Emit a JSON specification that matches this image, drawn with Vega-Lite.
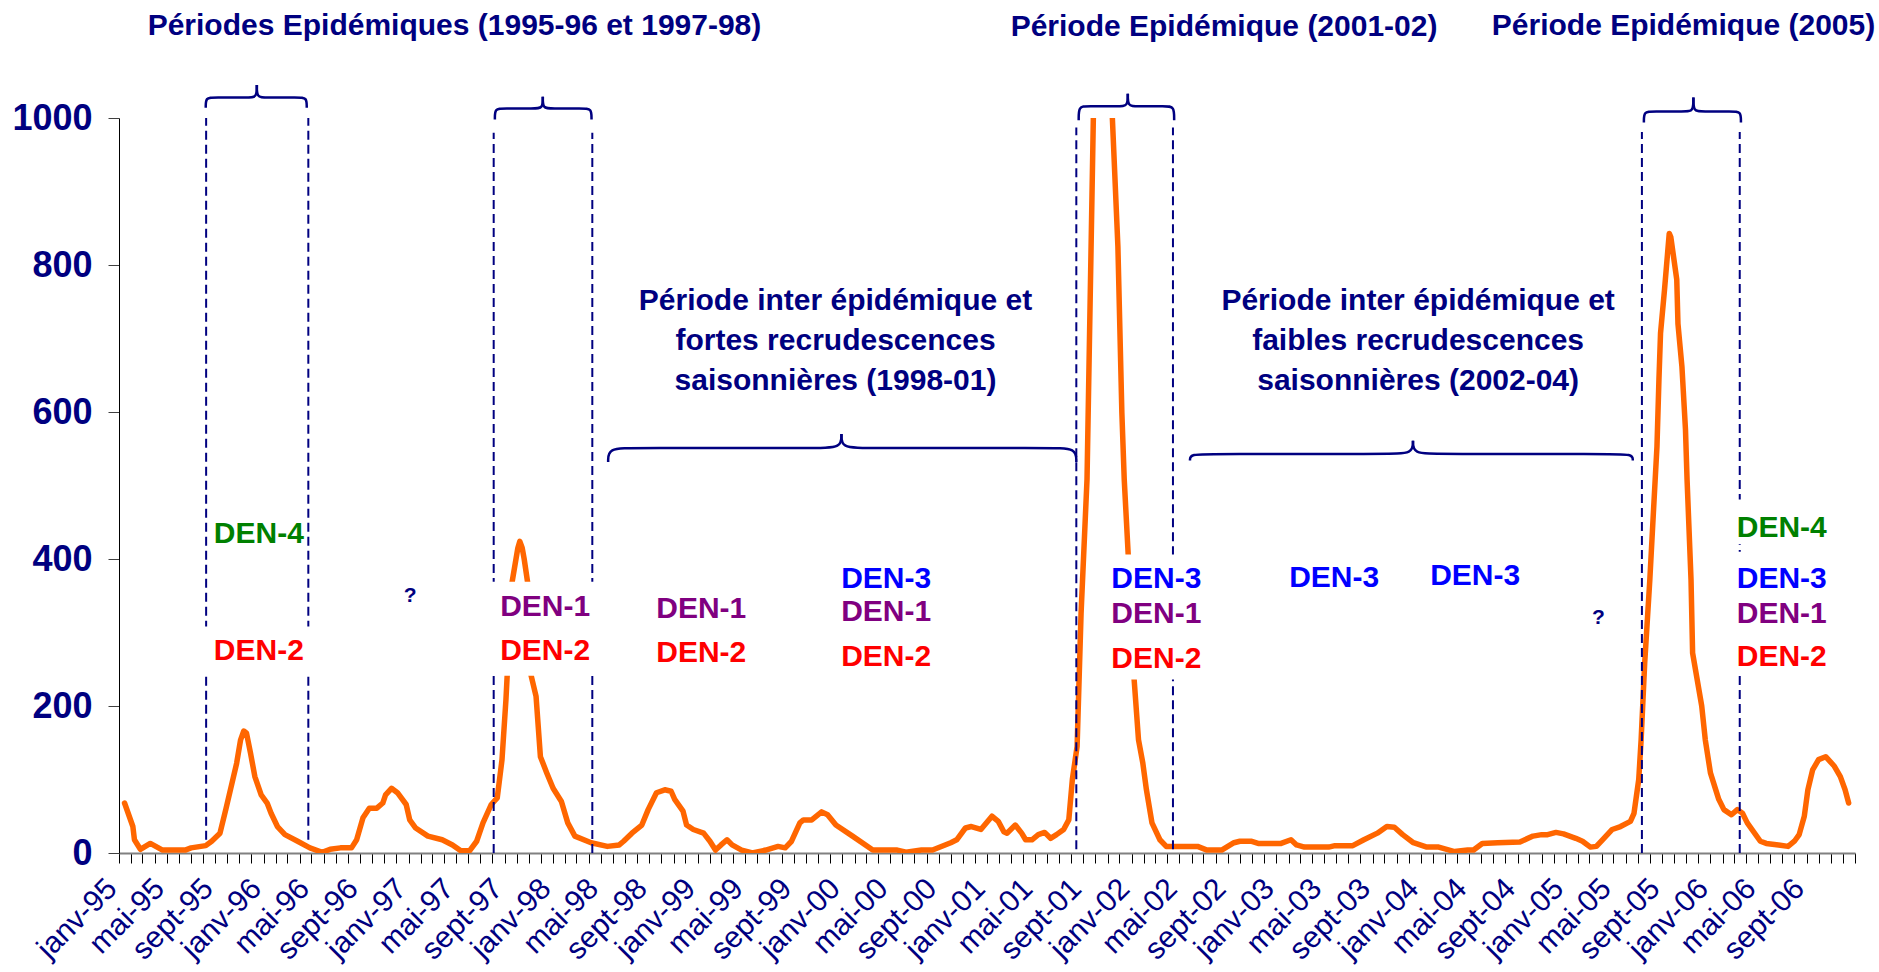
{
  "$schema": "https://vega.github.io/schema/vega-lite/v6.json",
  "width": 1736,
  "height": 735,
  "autosize": {"type": "none"},
  "padding": {"left": 119, "top": 118, "right": 24, "bottom": 119},
  "background": "white",
  "config": {"view": {"stroke": null}, "font": "Liberation Sans"},
  "datasets": {
    "cases": [
      {"date": "1995-01-15", "cases": 68}, {"date": "1995-02-05", "cases": 36}, {"date": "1995-02-09", "cases": 18},
      {"date": "1995-02-24", "cases": 5}, {"date": "1995-03-21", "cases": 13}, {"date": "1995-04-21", "cases": 4},
      {"date": "1995-06-17", "cases": 4}, {"date": "1995-07-02", "cases": 7}, {"date": "1995-08-08", "cases": 10},
      {"date": "1995-08-23", "cases": 16}, {"date": "1995-09-13", "cases": 27}, {"date": "1995-09-28", "cases": 60},
      {"date": "1995-10-25", "cases": 122}, {"date": "1995-11-04", "cases": 154}, {"date": "1995-11-12", "cases": 166},
      {"date": "1995-11-19", "cases": 163}, {"date": "1995-11-29", "cases": 136}, {"date": "1995-12-10", "cases": 104},
      {"date": "1995-12-26", "cases": 79}, {"date": "1996-01-10", "cases": 68}, {"date": "1996-01-20", "cases": 54},
      {"date": "1996-02-05", "cases": 36}, {"date": "1996-02-24", "cases": 25}, {"date": "1996-03-27", "cases": 16},
      {"date": "1996-04-27", "cases": 7}, {"date": "1996-05-28", "cases": 1}, {"date": "1996-06-17", "cases": 5},
      {"date": "1996-07-13", "cases": 7}, {"date": "1996-08-10", "cases": 7}, {"date": "1996-08-23", "cases": 18},
      {"date": "1996-09-08", "cases": 48}, {"date": "1996-09-24", "cases": 61}, {"date": "1996-10-13", "cases": 61},
      {"date": "1996-10-28", "cases": 68}, {"date": "1996-11-04", "cases": 79}, {"date": "1996-11-19", "cases": 88},
      {"date": "1996-12-04", "cases": 82}, {"date": "1996-12-26", "cases": 66}, {"date": "1997-01-04", "cases": 45},
      {"date": "1997-01-19", "cases": 34}, {"date": "1997-02-19", "cases": 23}, {"date": "1997-03-27", "cases": 18},
      {"date": "1997-04-22", "cases": 11}, {"date": "1997-05-13", "cases": 3}, {"date": "1997-06-04", "cases": 3},
      {"date": "1997-06-22", "cases": 16}, {"date": "1997-07-08", "cases": 41}, {"date": "1997-07-29", "cases": 66},
      {"date": "1997-08-13", "cases": 75}, {"date": "1997-08-25", "cases": 127}, {"date": "1997-09-04", "cases": 209},
      {"date": "1997-09-19", "cases": 367}, {"date": "1997-10-04", "cases": 415}, {"date": "1997-10-09", "cases": 424},
      {"date": "1997-10-15", "cases": 415}, {"date": "1997-10-20", "cases": 400}, {"date": "1997-10-29", "cases": 367},
      {"date": "1997-11-04", "cases": 247}, {"date": "1997-11-19", "cases": 213}, {"date": "1997-11-30", "cases": 131},
      {"date": "1997-12-16", "cases": 109}, {"date": "1998-01-01", "cases": 88}, {"date": "1998-01-22", "cases": 70},
      {"date": "1998-02-07", "cases": 41}, {"date": "1998-02-25", "cases": 23}, {"date": "1998-04-07", "cases": 14},
      {"date": "1998-05-18", "cases": 9}, {"date": "1998-06-17", "cases": 11}, {"date": "1998-06-28", "cases": 16},
      {"date": "1998-07-19", "cases": 27}, {"date": "1998-08-13", "cases": 38}, {"date": "1998-08-29", "cases": 59},
      {"date": "1998-09-19", "cases": 82}, {"date": "1998-10-10", "cases": 86}, {"date": "1998-10-26", "cases": 84},
      {"date": "1998-11-04", "cases": 73}, {"date": "1998-11-25", "cases": 57}, {"date": "1998-12-04", "cases": 38},
      {"date": "1998-12-21", "cases": 32}, {"date": "1999-01-16", "cases": 27}, {"date": "1999-02-01", "cases": 16},
      {"date": "1999-02-15", "cases": 4}, {"date": "1999-03-01", "cases": 11}, {"date": "1999-03-16", "cases": 18},
      {"date": "1999-03-29", "cases": 11}, {"date": "1999-04-22", "cases": 4}, {"date": "1999-05-19", "cases": 0},
      {"date": "1999-06-22", "cases": 4}, {"date": "1999-07-23", "cases": 9}, {"date": "1999-08-10", "cases": 7},
      {"date": "1999-08-26", "cases": 16}, {"date": "1999-09-16", "cases": 41}, {"date": "1999-09-25", "cases": 45},
      {"date": "1999-10-16", "cases": 45}, {"date": "1999-11-10", "cases": 56}, {"date": "1999-11-25", "cases": 52},
      {"date": "1999-12-16", "cases": 38}, {"date": "2000-01-27", "cases": 23}, {"date": "2000-03-18", "cases": 4},
      {"date": "2000-05-19", "cases": 4}, {"date": "2000-06-10", "cases": 1}, {"date": "2000-07-19", "cases": 4},
      {"date": "2000-08-16", "cases": 4}, {"date": "2000-10-01", "cases": 14}, {"date": "2000-10-16", "cases": 18},
      {"date": "2000-11-07", "cases": 34}, {"date": "2000-11-22", "cases": 36}, {"date": "2000-12-16", "cases": 32},
      {"date": "2001-01-13", "cases": 50}, {"date": "2001-01-29", "cases": 43}, {"date": "2001-02-12", "cases": 29},
      {"date": "2001-02-20", "cases": 27}, {"date": "2001-03-13", "cases": 38}, {"date": "2001-03-29", "cases": 27},
      {"date": "2001-04-08", "cases": 18}, {"date": "2001-04-24", "cases": 18}, {"date": "2001-05-10", "cases": 25},
      {"date": "2001-05-26", "cases": 28}, {"date": "2001-06-10", "cases": 20}, {"date": "2001-06-25", "cases": 25},
      {"date": "2001-07-13", "cases": 32}, {"date": "2001-07-26", "cases": 45}, {"date": "2001-08-04", "cases": 100},
      {"date": "2001-08-16", "cases": 145}, {"date": "2001-08-26", "cases": 326}, {"date": "2001-09-10", "cases": 508},
      {"date": "2001-09-26", "cases": 1000}, {"date": "2001-10-19", "cases": 1500}, {"date": "2001-11-13", "cases": 1000},
      {"date": "2001-11-27", "cases": 825}, {"date": "2001-12-07", "cases": 599}, {"date": "2001-12-13", "cases": 508},
      {"date": "2001-12-23", "cases": 406}, {"date": "2001-12-30", "cases": 320}, {"date": "2002-01-07", "cases": 236},
      {"date": "2002-01-18", "cases": 154}, {"date": "2002-01-29", "cases": 122}, {"date": "2002-02-07", "cases": 86},
      {"date": "2002-02-21", "cases": 41}, {"date": "2002-03-13", "cases": 18}, {"date": "2002-03-29", "cases": 9},
      {"date": "2002-04-19", "cases": 9}, {"date": "2002-06-16", "cases": 9}, {"date": "2002-07-10", "cases": 4},
      {"date": "2002-08-16", "cases": 4}, {"date": "2002-09-16", "cases": 14}, {"date": "2002-10-01", "cases": 16},
      {"date": "2002-10-29", "cases": 16}, {"date": "2002-11-16", "cases": 13}, {"date": "2003-01-13", "cases": 13},
      {"date": "2003-02-07", "cases": 18}, {"date": "2003-02-21", "cases": 11}, {"date": "2003-03-13", "cases": 8},
      {"date": "2003-05-13", "cases": 8}, {"date": "2003-05-29", "cases": 10}, {"date": "2003-07-13", "cases": 10},
      {"date": "2003-08-10", "cases": 18}, {"date": "2003-09-13", "cases": 27}, {"date": "2003-10-07", "cases": 36},
      {"date": "2003-10-26", "cases": 35}, {"date": "2003-11-16", "cases": 25}, {"date": "2003-12-13", "cases": 14},
      {"date": "2004-01-16", "cases": 8}, {"date": "2004-02-15", "cases": 8}, {"date": "2004-03-26", "cases": 2},
      {"date": "2004-04-28", "cases": 4}, {"date": "2004-05-13", "cases": 4}, {"date": "2004-06-04", "cases": 13},
      {"date": "2004-07-13", "cases": 14}, {"date": "2004-09-07", "cases": 15}, {"date": "2004-10-10", "cases": 23},
      {"date": "2004-11-01", "cases": 25}, {"date": "2004-11-16", "cases": 25}, {"date": "2004-12-07", "cases": 28},
      {"date": "2004-12-26", "cases": 26}, {"date": "2005-01-26", "cases": 20}, {"date": "2005-02-12", "cases": 16},
      {"date": "2005-03-04", "cases": 8}, {"date": "2005-03-19", "cases": 9}, {"date": "2005-04-07", "cases": 20},
      {"date": "2005-04-28", "cases": 32}, {"date": "2005-05-19", "cases": 36}, {"date": "2005-06-13", "cases": 43},
      {"date": "2005-06-22", "cases": 54}, {"date": "2005-07-04", "cases": 100}, {"date": "2005-07-10", "cases": 154},
      {"date": "2005-07-19", "cases": 258}, {"date": "2005-08-01", "cases": 372}, {"date": "2005-08-10", "cases": 463},
      {"date": "2005-08-19", "cases": 553}, {"date": "2005-08-24", "cases": 644}, {"date": "2005-08-28", "cases": 707},
      {"date": "2005-09-07", "cases": 766}, {"date": "2005-09-19", "cases": 843}, {"date": "2005-09-23", "cases": 838},
      {"date": "2005-10-08", "cases": 780}, {"date": "2005-10-11", "cases": 720}, {"date": "2005-10-21", "cases": 662},
      {"date": "2005-10-30", "cases": 576}, {"date": "2005-11-03", "cases": 508}, {"date": "2005-11-13", "cases": 372},
      {"date": "2005-11-17", "cases": 272}, {"date": "2005-12-10", "cases": 200}, {"date": "2005-12-19", "cases": 154},
      {"date": "2006-01-01", "cases": 109}, {"date": "2006-01-22", "cases": 73}, {"date": "2006-02-04", "cases": 59},
      {"date": "2006-02-23", "cases": 52}, {"date": "2006-03-10", "cases": 59}, {"date": "2006-03-23", "cases": 54},
      {"date": "2006-04-04", "cases": 41}, {"date": "2006-05-07", "cases": 16}, {"date": "2006-05-22", "cases": 13},
      {"date": "2006-06-22", "cases": 11}, {"date": "2006-07-16", "cases": 9}, {"date": "2006-08-01", "cases": 16},
      {"date": "2006-08-13", "cases": 25}, {"date": "2006-08-26", "cases": 50}, {"date": "2006-09-04", "cases": 86},
      {"date": "2006-09-16", "cases": 113}, {"date": "2006-10-01", "cases": 127}, {"date": "2006-10-19", "cases": 131},
      {"date": "2006-11-10", "cases": 118}, {"date": "2006-11-25", "cases": 104}, {"date": "2006-12-07", "cases": 86},
      {"date": "2006-12-16", "cases": 68}
    ],
    "periods": [
      {"date": "1995-08-09", "bottom": 18, "top": 1000},
      {"date": "1996-04-23", "bottom": 18, "top": 1000},
      {"date": "1997-08-04", "bottom": 0, "top": 980},
      {"date": "1998-04-10", "bottom": 0, "top": 980},
      {"date": "2001-08-14", "bottom": 5, "top": 987},
      {"date": "2002-04-15", "bottom": 5, "top": 987},
      {"date": "2005-07-12", "bottom": 0, "top": 981},
      {"date": "2006-03-16", "bottom": 0, "top": 981}
    ],
    "boxes": [
      {"start": "1995-07-18", "end": "1996-05-16", "low": 243, "high": 308},
      {"start": "1997-07-14", "end": "1998-04-27", "low": 241, "high": 369},
      {"start": "2001-10-11", "end": "2002-07-20", "low": 236, "high": 406},
      {"start": "2006-02-24", "end": "2006-11-12", "low": 420, "high": 481},
      {"start": "2006-02-24", "end": "2006-11-12", "low": 241, "high": 410}
    ],
    "serotypes": [
      {"date": "1995-12-20", "value": 422, "serotype": "DEN-4"},
      {"date": "1995-12-20", "value": 263, "serotype": "DEN-2"},
      {"date": "1997-12-12", "value": 322, "serotype": "DEN-1"},
      {"date": "1997-12-12", "value": 263, "serotype": "DEN-2"},
      {"date": "1999-01-10", "value": 320, "serotype": "DEN-1"},
      {"date": "1999-01-10", "value": 260, "serotype": "DEN-2"},
      {"date": "2000-04-21", "value": 361, "serotype": "DEN-3"},
      {"date": "2000-04-21", "value": 315, "serotype": "DEN-1"},
      {"date": "2000-04-21", "value": 255, "serotype": "DEN-2"},
      {"date": "2002-03-04", "value": 361, "serotype": "DEN-3"},
      {"date": "2002-03-04", "value": 313, "serotype": "DEN-1"},
      {"date": "2002-03-04", "value": 252, "serotype": "DEN-2"},
      {"date": "2003-05-27", "value": 362, "serotype": "DEN-3"},
      {"date": "2004-05-17", "value": 365, "serotype": "DEN-3"},
      {"date": "2006-06-30", "value": 430, "serotype": "DEN-4"},
      {"date": "2006-06-30", "value": 361, "serotype": "DEN-3"},
      {"date": "2006-06-30", "value": 313, "serotype": "DEN-1"},
      {"date": "2006-06-30", "value": 254, "serotype": "DEN-2"}
    ],
    "unknown": [
      {"date": "1997-01-05", "value": 342, "label": "?"},
      {"date": "2005-03-24", "value": 312, "label": "?"}
    ],
    "titles": [
      {"date": "1997-04-27", "value": 1113, "label": "Périodes Epidémiques (1995-96 et 1997-98)"},
      {"date": "2002-08-22", "value": 1112, "label": "Période Epidémique (2001-02)"},
      {"date": "2005-10-25", "value": 1113, "label": "Période Epidémique (2005)"}
    ],
    "notes": [
      {"date": "1999-12-15", "value": 739, "label": "Période inter épidémique et\nfortes recrudescences\nsaisonnières (1998-01)"},
      {"date": "2003-12-25", "value": 739, "label": "Période inter épidémique et\nfaibles recrudescences\nsaisonnières (2002-04)"}
    ],
    "braces": [
      {"brace": "b1l", "seq": 0, "date": "1995-08-08", "value": 1014},
      {"brace": "b1l", "seq": 1, "date": "1995-08-08", "value": 1028},
      {"brace": "b1l", "seq": 2, "date": "1995-08-28", "value": 1028},
      {"brace": "b1l", "seq": 3, "date": "1995-11-24", "value": 1028},
      {"brace": "b1l", "seq": 4, "date": "1995-12-15", "value": 1028},
      {"brace": "b1l", "seq": 5, "date": "1995-12-15", "value": 1045},
      {"brace": "b1r", "seq": 0, "date": "1996-04-19", "value": 1014},
      {"brace": "b1r", "seq": 1, "date": "1996-04-19", "value": 1028},
      {"brace": "b1r", "seq": 2, "date": "1996-03-30", "value": 1028},
      {"brace": "b1r", "seq": 3, "date": "1996-01-04", "value": 1028},
      {"brace": "b1r", "seq": 4, "date": "1995-12-15", "value": 1028},
      {"brace": "b1r", "seq": 5, "date": "1995-12-15", "value": 1045},
      {"brace": "b2l", "seq": 0, "date": "1997-08-07", "value": 998},
      {"brace": "b2l", "seq": 1, "date": "1997-08-07", "value": 1013},
      {"brace": "b2l", "seq": 2, "date": "1997-08-27", "value": 1013},
      {"brace": "b2l", "seq": 3, "date": "1997-11-16", "value": 1013},
      {"brace": "b2l", "seq": 4, "date": "1997-12-06", "value": 1013},
      {"brace": "b2l", "seq": 5, "date": "1997-12-06", "value": 1029},
      {"brace": "b2r", "seq": 0, "date": "1998-04-08", "value": 998},
      {"brace": "b2r", "seq": 1, "date": "1998-04-08", "value": 1013},
      {"brace": "b2r", "seq": 2, "date": "1998-03-18", "value": 1013},
      {"brace": "b2r", "seq": 3, "date": "1997-12-26", "value": 1013},
      {"brace": "b2r", "seq": 4, "date": "1997-12-06", "value": 1013},
      {"brace": "b2r", "seq": 5, "date": "1997-12-06", "value": 1029},
      {"brace": "b3l", "seq": 0, "date": "2001-08-20", "value": 997},
      {"brace": "b3l", "seq": 1, "date": "2001-08-20", "value": 1016},
      {"brace": "b3l", "seq": 2, "date": "2001-09-09", "value": 1016},
      {"brace": "b3l", "seq": 3, "date": "2001-12-01", "value": 1016},
      {"brace": "b3l", "seq": 4, "date": "2001-12-22", "value": 1016},
      {"brace": "b3l", "seq": 5, "date": "2001-12-22", "value": 1033},
      {"brace": "b3r", "seq": 0, "date": "2002-04-18", "value": 997},
      {"brace": "b3r", "seq": 1, "date": "2002-04-18", "value": 1016},
      {"brace": "b3r", "seq": 2, "date": "2002-03-29", "value": 1016},
      {"brace": "b3r", "seq": 3, "date": "2002-01-11", "value": 1016},
      {"brace": "b3r", "seq": 4, "date": "2001-12-22", "value": 1016},
      {"brace": "b3r", "seq": 5, "date": "2001-12-22", "value": 1033},
      {"brace": "b4l", "seq": 0, "date": "2005-07-17", "value": 994},
      {"brace": "b4l", "seq": 1, "date": "2005-07-17", "value": 1009},
      {"brace": "b4l", "seq": 2, "date": "2005-08-07", "value": 1009},
      {"brace": "b4l", "seq": 3, "date": "2005-10-30", "value": 1009},
      {"brace": "b4l", "seq": 4, "date": "2005-11-19", "value": 1009},
      {"brace": "b4l", "seq": 5, "date": "2005-11-19", "value": 1028},
      {"brace": "b4r", "seq": 0, "date": "2006-03-19", "value": 994},
      {"brace": "b4r", "seq": 1, "date": "2006-03-19", "value": 1009},
      {"brace": "b4r", "seq": 2, "date": "2006-02-27", "value": 1009},
      {"brace": "b4r", "seq": 3, "date": "2005-12-09", "value": 1009},
      {"brace": "b4r", "seq": 4, "date": "2005-11-19", "value": 1009},
      {"brace": "b4r", "seq": 5, "date": "2005-11-19", "value": 1028},
      {"brace": "bLl", "seq": 0, "date": "1998-05-20", "value": 532},
      {"brace": "bLl", "seq": 1, "date": "1998-05-20", "value": 551},
      {"brace": "bLl", "seq": 2, "date": "1998-07-22", "value": 551},
      {"brace": "bLl", "seq": 3, "date": "1999-10-28", "value": 551},
      {"brace": "bLl", "seq": 4, "date": "1999-12-30", "value": 551},
      {"brace": "bLl", "seq": 5, "date": "1999-12-30", "value": 570},
      {"brace": "bLr", "seq": 0, "date": "2001-08-14", "value": 532},
      {"brace": "bLr", "seq": 1, "date": "2001-08-14", "value": 551},
      {"brace": "bLr", "seq": 2, "date": "2001-06-12", "value": 551},
      {"brace": "bLr", "seq": 3, "date": "2000-03-01", "value": 551},
      {"brace": "bLr", "seq": 4, "date": "1999-12-30", "value": 551},
      {"brace": "bLr", "seq": 5, "date": "1999-12-30", "value": 570},
      {"brace": "bRl", "seq": 0, "date": "2002-05-28", "value": 534},
      {"brace": "bRl", "seq": 1, "date": "2002-05-28", "value": 543},
      {"brace": "bRl", "seq": 2, "date": "2002-07-30", "value": 543},
      {"brace": "bRl", "seq": 3, "date": "2003-10-10", "value": 543},
      {"brace": "bRl", "seq": 4, "date": "2003-12-12", "value": 543},
      {"brace": "bRl", "seq": 5, "date": "2003-12-12", "value": 561},
      {"brace": "bRr", "seq": 0, "date": "2005-06-19", "value": 534},
      {"brace": "bRr", "seq": 1, "date": "2005-06-19", "value": 543},
      {"brace": "bRr", "seq": 2, "date": "2005-04-17", "value": 543},
      {"brace": "bRr", "seq": 3, "date": "2004-02-14", "value": 543},
      {"brace": "bRr", "seq": 4, "date": "2003-12-12", "value": 543},
      {"brace": "bRr", "seq": 5, "date": "2003-12-12", "value": 561}
    ]
  },
  "layer": [
    {
      "data": {"name": "cases"},
      "mark": {"type": "line", "color": "#FF6600", "strokeWidth": 5.5, "clip": true, "strokeJoin": "round", "strokeCap": "round"},
      "encoding": {
        "x": {
          "field": "date", "type": "temporal",
          "scale": {"type": "utc", "domain": [{"year": 1995, "month": 1, "date": 1, "utc": true}, {"year": 2007, "month": 1, "date": 1, "utc": true}]},
          "axis": {
            "title": null, "grid": false,
            "tickCount": {"interval": "month", "step": 1},
            "labelExpr": "utcyear(datum.value) < 2007 && utcmonth(datum.value) % 4 == 0 ? ['janv','févr','mars','avr','mai','juin','juil','août','sept','oct','nov','déc'][utcmonth(datum.value)] + '-' + utcFormat(datum.value, '%y') : ''",
            "labelAngle": -45, "labelAlign": "right", "labelBaseline": "alphabetic",
            "labelFont": "Liberation Sans", "labelFontSize": 30, "labelColor": "#000080",
            "labelOverlap": false, "labelFlush": false, "labelBound": false,
            "labelOffset": -1, "labelPadding": 27,
            "tickSize": 10, "tickColor": "#000000", "tickWidth": 1,
            "domainColor": "#808080", "domainWidth": 2
          }
        },
        "y": {
          "field": "cases", "type": "quantitative",
          "scale": {"domain": [0, 1000], "nice": false, "zero": false},
          "axis": {
            "title": null, "grid": false, "values": [0, 200, 400, 600, 800, 1000], "format": "d",
            "labelFont": "Liberation Sans", "labelFontSize": 36, "labelFontWeight": "bold", "labelColor": "#000080",
            "labelPadding": 16, "tickSize": 11, "tickColor": "#404040",
            "domainColor": "#000000", "domainWidth": 1
          }
        }
      }
    },
    {
      "data": {"name": "periods"},
      "mark": {"type": "rule", "color": "#000080", "strokeWidth": 2, "strokeDash": [9, 5]},
      "encoding": {
        "x": {"field": "date", "type": "temporal"},
        "y": {"field": "bottom", "type": "quantitative"},
        "y2": {"field": "top"}
      }
    },
    {
      "data": {"name": "boxes"},
      "mark": {"type": "rect", "fill": "white"},
      "encoding": {
        "x": {"field": "start", "type": "temporal"},
        "x2": {"field": "end"},
        "y": {"field": "low", "type": "quantitative"},
        "y2": {"field": "high"}
      }
    },
    {
      "data": {"name": "serotypes"},
      "mark": {"type": "text", "font": "Liberation Sans", "fontSize": 30, "fontWeight": "bold", "align": "center", "baseline": "alphabetic"},
      "encoding": {
        "x": {"field": "date", "type": "temporal"},
        "y": {"field": "value", "type": "quantitative"},
        "text": {"field": "serotype"},
        "color": {
          "field": "serotype", "type": "nominal", "legend": null,
          "scale": {"domain": ["DEN-1", "DEN-2", "DEN-3", "DEN-4"], "range": ["#800080", "#FF0000", "#0000FF", "#008000"]}
        }
      }
    },
    {
      "data": {"name": "unknown"},
      "mark": {"type": "text", "font": "Liberation Sans", "fontSize": 21, "fontWeight": "bold", "align": "center", "baseline": "alphabetic", "color": "#000080"},
      "encoding": {
        "x": {"field": "date", "type": "temporal"},
        "y": {"field": "value", "type": "quantitative"},
        "text": {"field": "label"}
      }
    },
    {
      "data": {"name": "titles"},
      "mark": {"type": "text", "font": "Liberation Sans", "fontSize": 30, "fontWeight": "bold", "align": "center", "baseline": "alphabetic", "color": "#000080"},
      "encoding": {
        "x": {"field": "date", "type": "temporal"},
        "y": {"field": "value", "type": "quantitative"},
        "text": {"field": "label"}
      }
    },
    {
      "data": {"name": "notes"},
      "mark": {"type": "text", "font": "Liberation Sans", "fontSize": 30, "fontWeight": "bold", "align": "center", "baseline": "alphabetic", "color": "#000080", "lineBreak": "\n", "lineHeight": 40},
      "encoding": {
        "x": {"field": "date", "type": "temporal"},
        "y": {"field": "value", "type": "quantitative"},
        "text": {"field": "label"}
      }
    },
    {
      "data": {"name": "braces"},
      "mark": {"type": "line", "color": "#000080", "strokeWidth": 2.5, "interpolate": "basis"},
      "encoding": {
        "x": {"field": "date", "type": "temporal"},
        "y": {"field": "value", "type": "quantitative"},
        "detail": {"field": "brace"},
        "order": {"field": "seq", "type": "quantitative"}
      }
    }
  ]
}
